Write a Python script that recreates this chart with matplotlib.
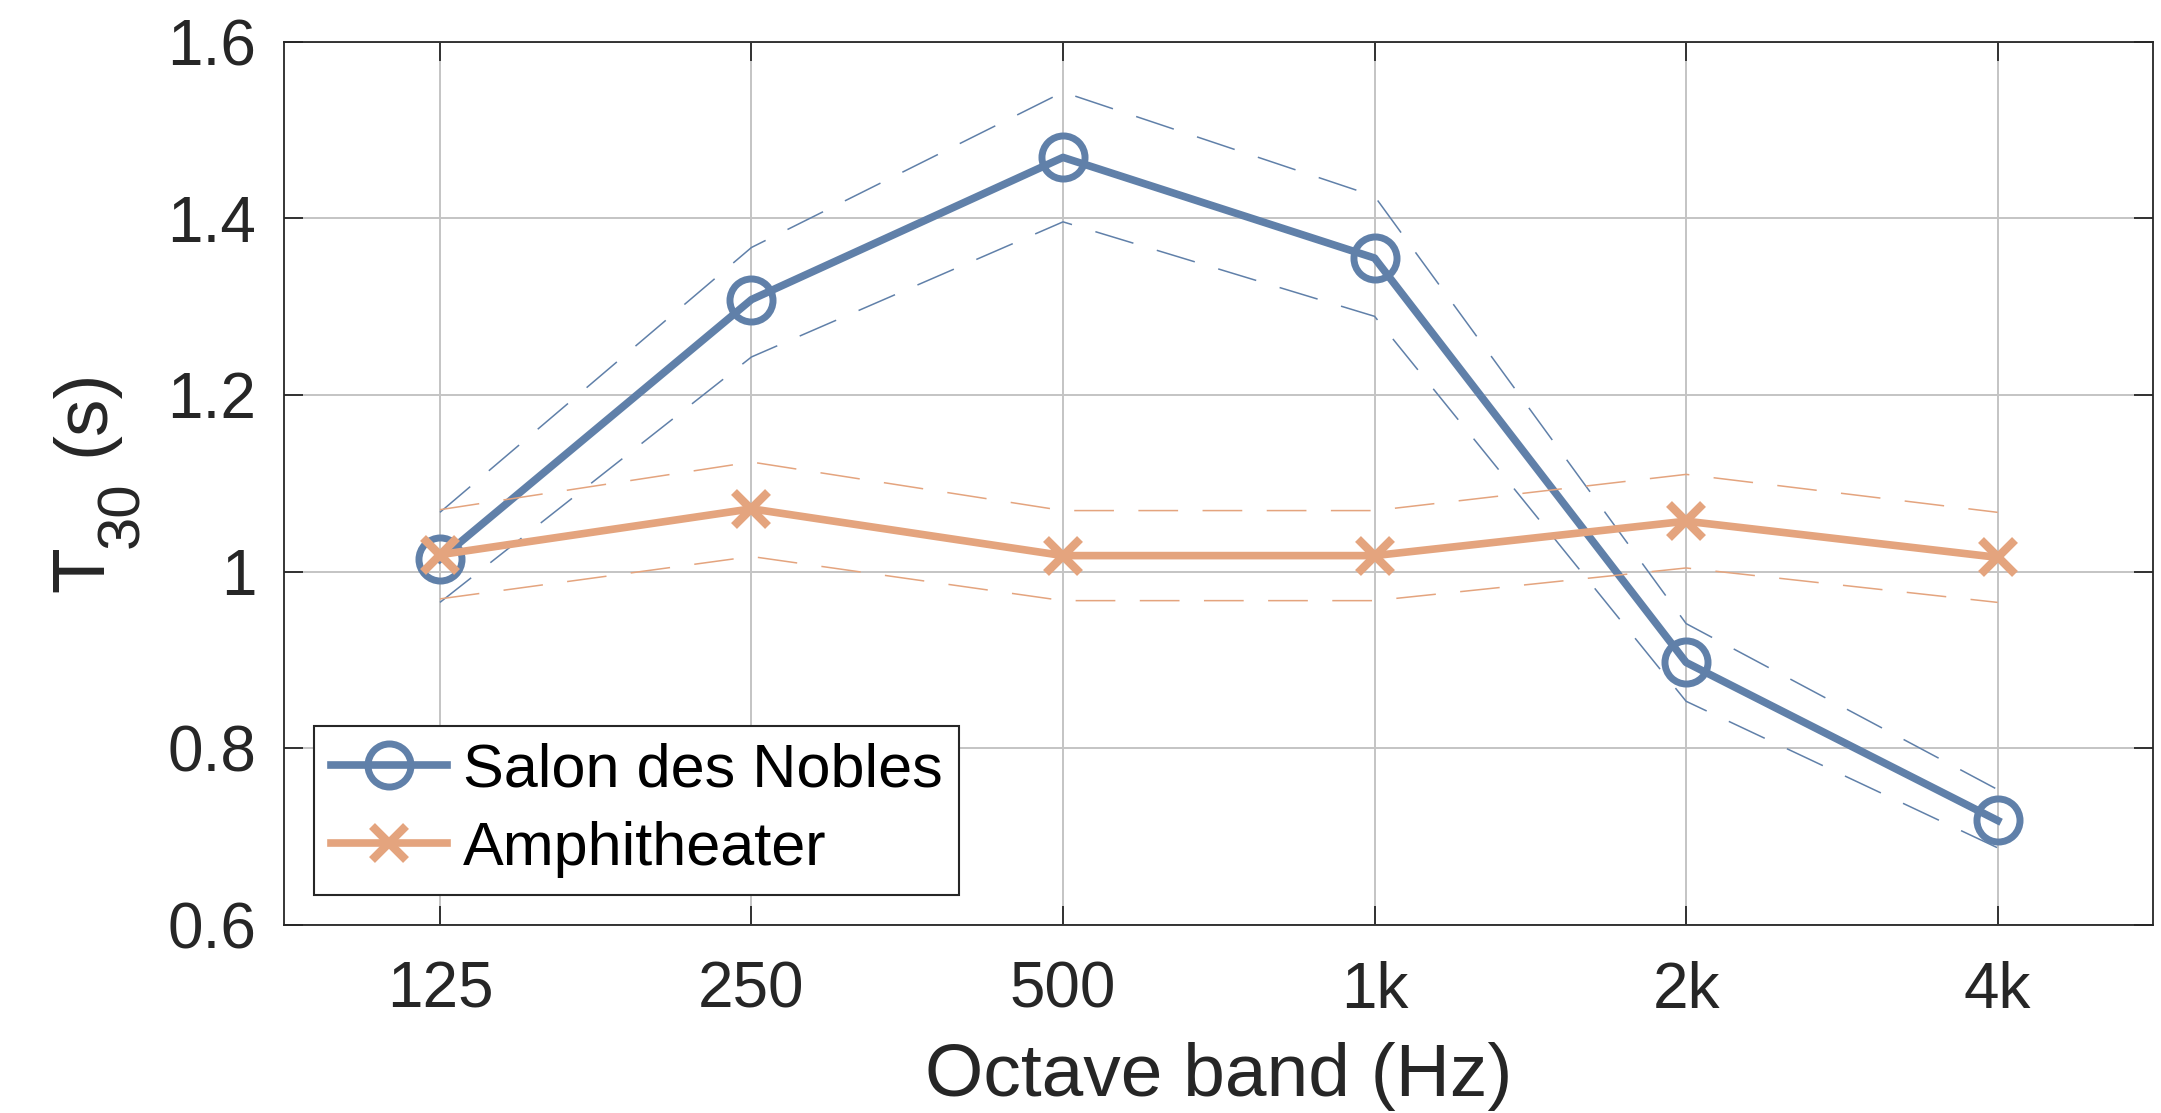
import matplotlib
matplotlib.use('Agg')
import matplotlib.pyplot as plt
from matplotlib.ticker import FuncFormatter

# octave bands
bands = ['125', '250', '500', '1k', '2k', '4k']

# T30 values (s)
salon_mean = [1.014, 1.308, 1.469, 1.355, 0.897, 0.718]
salon_upper = [1.067, 1.367, 1.543, 1.425, 0.941, 0.753]
salon_lower = [0.965, 1.243, 1.396, 1.289, 0.853, 0.687]

amphi_mean = [1.019, 1.071, 1.018, 1.018, 1.057, 1.016]
amphi_upper = [1.070, 1.124, 1.069, 1.069, 1.110, 1.067]
amphi_lower = [0.969, 1.017, 0.967, 0.967, 1.004, 0.965]

blue = '#6080a9'
orange = '#e4a47e'
txt = '#262626'

plt.rcParams['font.family'] = ['Liberation Sans', 'DejaVu Sans']

W, H = 2161, 1113
fig = plt.figure(figsize=(W / 100, H / 100), dpi=100)
ax = fig.add_axes([0.1315, 0.1692, 0.8650, 0.7933])

x = list(range(1, len(bands) + 1))
dash = (0, (26, 16))

ax.plot(x, salon_upper, color=blue, lw=1.1, linestyle=dash, zorder=3)
ax.plot(x, salon_lower, color=blue, lw=1.1, linestyle=dash, zorder=3)
ax.plot(x, salon_mean, color=blue, lw=5.5, marker='o', markersize=31,
        markerfacecolor='none', markeredgewidth=5, label='Salon des Nobles', zorder=4)

ax.plot(x, amphi_upper, color=orange, lw=1.1, linestyle=dash, zorder=5)
ax.plot(x, amphi_lower, color=orange, lw=1.1, linestyle=dash, zorder=5)
ax.plot(x, amphi_mean, color=orange, lw=5.5, marker='x', markersize=24,
        markeredgewidth=6, label='Amphitheater', zorder=6)

ax.set_xlim(0.5, 6.5)
ax.set_ylim(0.6, 1.6)
ax.set_xticks(x)
ax.set_xticklabels(bands)
ax.set_yticks([0.6, 0.8, 1.0, 1.2, 1.4, 1.6])
ax.yaxis.set_major_formatter(FuncFormatter(lambda v, p: '%g' % round(v, 2)))

ax.grid(True, color='#c4c4c4', linewidth=1.4, zorder=0)
ax.set_axisbelow(True)

for s in ax.spines.values():
    s.set_color(txt)
    s.set_linewidth(1.3)

ax.tick_params(direction='in', length=14, width=1.3, colors=txt,
               labelsize=46, top=True, right=True)
ax.tick_params(axis='x', pad=26)
ax.tick_params(axis='y', pad=20)

ax.set_xlabel('Octave band (Hz)', fontsize=54, color=txt)
ax.xaxis.set_label_coords(0.5, -0.172)
ax.xaxis.label.set_va('center')

# y label built in pieces so the subscript is large like the original
ylab = dict(rotation=90, rotation_mode='anchor', ha='left', va='baseline', color=txt)
fig.text(103 / W, (H - 592) / H, 'T', fontsize=54, **ylab)
fig.text(138 / W, (H - 548) / H, '30', fontsize=43, **ylab)
fig.text(103 / W, (H - 456) / H, '(s)', fontsize=54, **ylab)

leg = ax.legend(loc='lower left', bbox_to_anchor=(0.016, 0.034), borderaxespad=0,
                fontsize=44, fancybox=False, framealpha=1, edgecolor=txt,
                handlelength=1.9, handletextpad=0.25, borderpad=0.28,
                labelspacing=0.34)
leg.get_frame().set_linewidth(1.5)

plt.savefig('out.png', dpi=100)
